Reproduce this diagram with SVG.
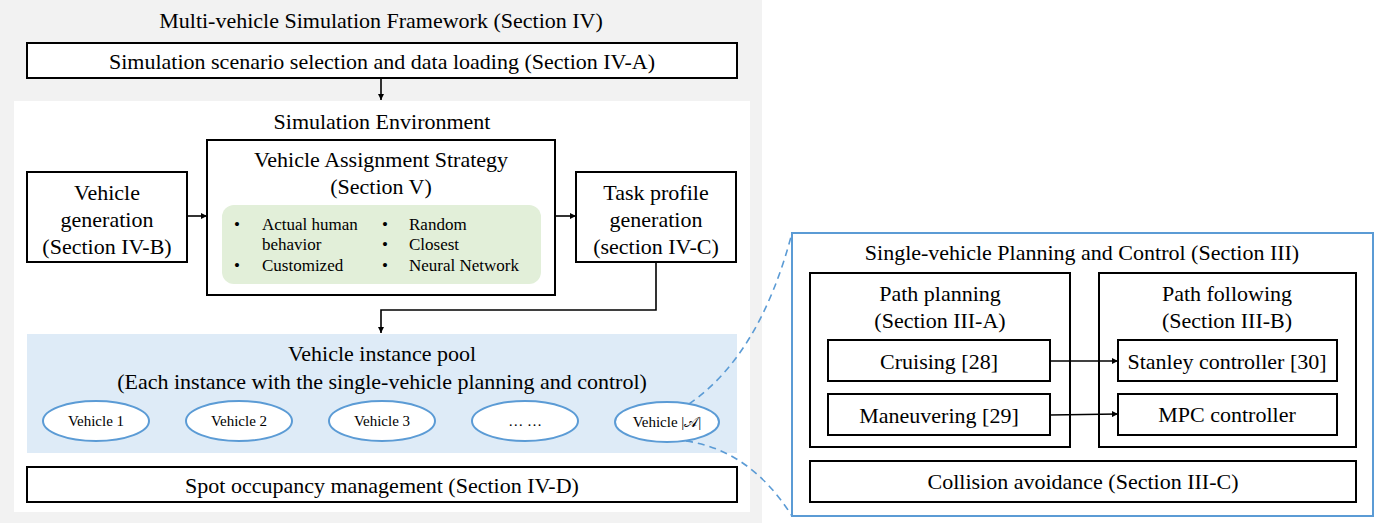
<svg xmlns="http://www.w3.org/2000/svg" width="1390" height="525" viewBox="0 0 1390 525">
<style>
text{font-family:"Liberation Serif","Times New Roman",serif;fill:#000;text-anchor:middle;dominant-baseline:central}
.t20{font-size:22px}
.t15{font-size:17px}
.t13{font-size:15px}
.box{fill:#fff;stroke:#000;stroke-width:2}
.ell{fill:#fff;stroke:#5b9bd5;stroke-width:2}
.conn{fill:none;stroke:#000;stroke-width:1.6}
.dash{fill:none;stroke:#5b9bd5;stroke-width:1.6;stroke-dasharray:7,5}
.lft{text-anchor:start}
.math{font-family:"DejaVu Sans","Noto Sans",serif}
</style>
<defs>
<marker id="ah" viewBox="0 0 10 10" refX="10" refY="5" markerWidth="6" markerHeight="6" markerUnits="userSpaceOnUse" orient="auto">
<path d="M0,0 L10,5 L0,10 z" fill="#000"/>
</marker>
</defs>

<g id="framework">
<rect x="0" y="0" width="762" height="523" fill="#f2f2f2"/>
<text class="t20" x="381" y="20">Multi-vehicle Simulation Framework (Section IV)</text>
</g>
<g id="scenario">
<rect class="box" x="27" y="43" width="710" height="35"/>
<text class="t20" x="382" y="61">Simulation scenario selection and data loading (Section IV-A)</text>
</g>
<g id="environment">
<rect x="14" y="101" width="736" height="411" fill="#fff"/>
<text class="t20" x="382" y="121">Simulation Environment</text>
</g>
<g id="vehicle-generation">
<rect class="box" x="27" y="172" width="160" height="90"/>
<text class="t20" x="107" y="192">Vehicle</text>
<text class="t20" x="107" y="219">generation</text>
<text class="t20" x="107" y="246">(Section IV-B)</text>
</g>
<g id="assignment">
<rect class="box" x="207" y="140" width="348" height="155"/>
<text class="t20" x="381" y="159">Vehicle Assignment Strategy</text>
<text class="t20" x="381" y="186">(Section V)</text>
<rect x="222" y="205" width="319" height="79" rx="12" fill="#e2efd9"/>
<text class="t15" x="237" y="224">•</text>
<text class="t15 lft" x="262" y="224">Actual human</text>
<text class="t15 lft" x="262" y="244">behavior</text>
<text class="t15" x="237" y="265">•</text>
<text class="t15 lft" x="262" y="265">Customized</text>
<text class="t15" x="385" y="224">•</text>
<text class="t15 lft" x="409" y="224">Random</text>
<text class="t15" x="385" y="244">•</text>
<text class="t15 lft" x="409" y="244">Closest</text>
<text class="t15" x="385" y="265">•</text>
<text class="t15 lft" x="409" y="265">Neural Network</text>
</g>
<g id="task-profile">
<rect class="box" x="576" y="172" width="160" height="90"/>
<text class="t20" x="656" y="192">Task profile</text>
<text class="t20" x="656" y="219">generation</text>
<text class="t20" x="656" y="246">(section IV-C)</text>
</g>
<g id="instance-pool">
<rect x="27" y="334" width="710" height="119" fill="#deebf7"/>
<text class="t20" x="382" y="353">Vehicle instance pool</text>
<text class="t20" x="382" y="381">(Each instance with the single-vehicle planning and control)</text>
</g>
<g id="vehicle-1"><ellipse class="ell" cx="96" cy="421" rx="53" ry="20"/><text class="t13" x="96" y="421">Vehicle 1</text></g>
<g id="vehicle-2"><ellipse class="ell" cx="239" cy="421" rx="53" ry="20"/><text class="t13" x="239" y="421">Vehicle 2</text></g>
<g id="vehicle-3"><ellipse class="ell" cx="382" cy="421" rx="53" ry="20"/><text class="t13" x="382" y="421">Vehicle 3</text></g>
<g id="vehicle-dots"><ellipse class="ell" cx="525" cy="421" rx="53" ry="20"/><text class="t13" x="525" y="421">… …</text></g>
<g id="vehicle-a"><ellipse class="ell" cx="667" cy="422" rx="52" ry="20"/><text class="t13" x="667" y="422">Vehicle |<tspan class="math">𝒜</tspan>|</text></g>
<g id="spot-occupancy">
<rect class="box" x="27" y="467" width="710" height="35"/>
<text class="t20" x="382" y="485">Spot occupancy management (Section IV-D)</text>
</g>

<g id="single-vehicle">
<rect x="792" y="233" width="581" height="283" fill="#fff" stroke="#5b9bd5" stroke-width="2"/>
<text class="t20" x="1082" y="252">Single-vehicle Planning and Control (Section III)</text>
</g>
<g id="path-planning">
<rect class="box" x="810" y="273" width="260" height="174"/>
<text class="t20" x="940" y="293">Path planning</text>
<text class="t20" x="940" y="320">(Section III-A)</text>
</g>
<g id="cruising"><rect class="box" x="828" y="340" width="222" height="41"/><text class="t20" x="939" y="361">Cruising [28]</text></g>
<g id="maneuvering"><rect class="box" x="828" y="394" width="222" height="41"/><text class="t20" x="939" y="415">Maneuvering [29]</text></g>
<g id="path-following">
<rect class="box" x="1099" y="273" width="257" height="174"/>
<text class="t20" x="1227" y="293">Path following</text>
<text class="t20" x="1227" y="320">(Section III-B)</text>
</g>
<g id="stanley"><rect class="box" x="1118" y="340" width="219" height="41"/><text class="t20" x="1227" y="361">Stanley controller [30]</text></g>
<g id="mpc"><rect class="box" x="1118" y="394" width="219" height="41"/><text class="t20" x="1227" y="414">MPC controller</text></g>
<g id="collision"><rect class="box" x="810" y="461" width="546" height="41"/><text class="t20" x="1083" y="481">Collision avoidance (Section III-C)</text></g>

<g id="connectors">
<path class="conn" d="M381,78 V100" marker-end="url(#ah)"/>
<path class="conn" d="M187,216 H207" marker-end="url(#ah)"/>
<path class="conn" d="M555,216 H576" marker-end="url(#ah)"/>
<path class="conn" d="M656,262 V310 H381 V333" marker-end="url(#ah)"/>
<path class="conn" d="M1050,361 H1118" marker-end="url(#ah)"/>
<path class="conn" d="M1050,415 L1118,414" marker-end="url(#ah)"/>
<path class="dash" d="M689,404 Q760,355 792,233"/>
<path class="dash" d="M686,441 Q750,450 792,516"/>
</g>
</svg>
